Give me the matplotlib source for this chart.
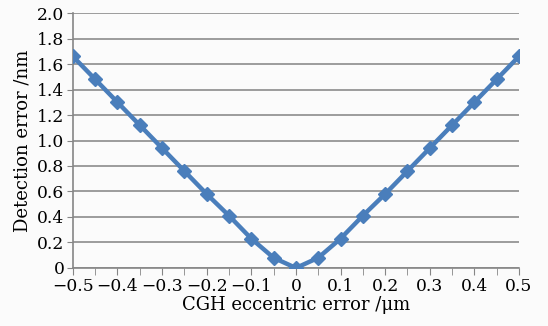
import matplotlib
matplotlib.use("Agg")
import matplotlib.pyplot as plt
import numpy as np

x = [-0.5, -0.45, -0.4, -0.35, -0.3, -0.25, -0.2, -0.15, -0.1, -0.05, 0.0,
     0.05, 0.1, 0.15, 0.2, 0.25, 0.3, 0.35, 0.4, 0.45, 0.5]
y = [1.66, 1.48, 1.30, 1.12, 0.94, 0.76, 0.58, 0.41, 0.23, 0.08, 0.0,
     0.08, 0.23, 0.41, 0.58, 0.76, 0.94, 1.12, 1.30, 1.48, 1.66]
xticks = [-0.5, -0.4, -0.3, -0.2, -0.1, 0, 0.1, 0.2, 0.3, 0.4, 0.5]
xticklabels = ["\u22120.5", "\u22120.4", "\u22120.3", "\u22120.2", "\u22120.1", "0",
               "0.1", "0.2", "0.3", "0.4", "0.5"]
yticks = [0, 0.2, 0.4, 0.6, 0.8, 1.0, 1.2, 1.4, 1.6, 1.8, 2.0]
yticklabels = ["0", "0.2", "0.4", "0.6", "0.8", "1.0", "1.2", "1.4", "1.6", "1.8", "2.0"]

plt.rcParams['font.family'] = ['DejaVu Serif']

fig = plt.figure(figsize=(5.48, 3.26), dpi=100, facecolor='#fbfbfb')
ax = fig.add_axes([0.133, 0.178, 0.814, 0.782])
ax.set_facecolor('#fbfbfb')

ax.plot(x, y, color='#4a7ebb', lw=3.2, marker='D', ms=7.5, mfc='#4a7ebb', mec='#4a7ebb', zorder=3)

ax.set_xlim(-0.5, 0.5)
ax.set_ylim(0, 2.0)
ax.set_xticks(xticks)
ax.set_xticklabels(xticklabels)
ax.set_xticks(np.arange(-0.45, 0.5, 0.1), minor=True)
ax.set_yticks(yticks)
ax.set_yticklabels(yticklabels)
ax.tick_params(axis='both', which='both', labelsize=12.3, color='#868686', direction='out', pad=2)
ax.tick_params(axis='x', which='both', length=5)
ax.tick_params(axis='y', length=4)
ax.grid(axis='y', color='#8c8c8c', lw=1.2)
ax.set_axisbelow(True)
for s in ['top', 'right']:
    ax.spines[s].set_visible(False)
for s in ['left', 'bottom']:
    ax.spines[s].set_color('#868686')
    ax.spines[s].set_linewidth(1.2)

ax.set_xlabel("CGH eccentric error /\u03bcm", fontsize=13, labelpad=1)
ax.set_ylabel("Detection error /nm", fontsize=13, labelpad=4)

fig.savefig("out.png", dpi=100, facecolor=fig.get_facecolor())
